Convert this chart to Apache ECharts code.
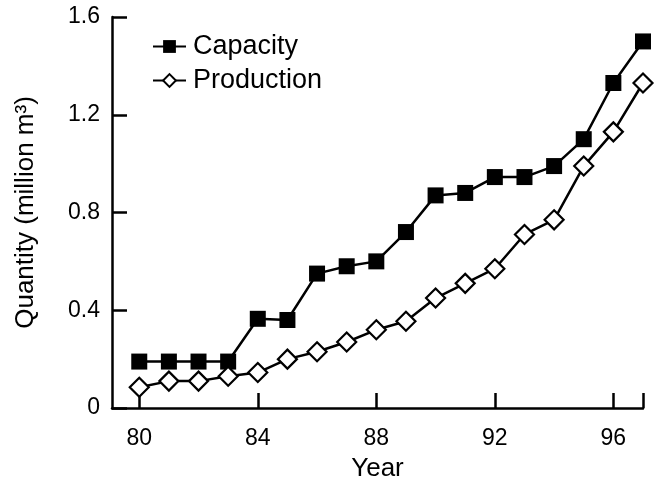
<!DOCTYPE html>
<html>
<head>
<meta charset="utf-8">
<script src="https://cdn.jsdelivr.net/npm/echarts@6/dist/echarts.min.js"></script>
<style>
  html, body { margin: 0; padding: 0; background: #fff; }
  #chart { width: 665px; height: 483px; }
</style>
</head>
<body>
<div id="chart"></div>
<script>
// Years (19xx) and quantities in million m³
const years = [80, 81, 82, 83, 84, 85, 86, 87, 88, 89, 90, 91, 92, 93, 94, 95, 96, 97];
const capacity = [0.19, 0.19, 0.19, 0.19, 0.365, 0.36, 0.55, 0.58, 0.60, 0.72, 0.87, 0.88, 0.945, 0.945, 0.99, 1.10, 1.33, 1.50];
const production = [0.085, 0.11, 0.11, 0.13, 0.145, 0.20, 0.23, 0.27, 0.32, 0.355, 0.45, 0.51, 0.57, 0.71, 0.77, 0.99, 1.13, 1.33];
const xTickLabels = [80, 84, 88, 92, 96];
const xTicks = [80, 84, 88, 92, 96, 97];

const FONT = '"Liberation Sans", Arial, sans-serif';
const pairs = (vals) => years.map((y, i) => [y, vals[i]]);

const chart = echarts.init(document.getElementById('chart'), null, { renderer: 'canvas' });

chart.setOption({
  animation: false,
  backgroundColor: '#fff',
  textStyle: { fontFamily: FONT, color: '#000' },
  grid: { left: 112, right: 22, top: 17, bottom: 75, containLabel: false, outerBoundsMode: 'none' },
  legend: {
    orient: 'vertical',
    left: 147,
    top: 28,
    itemWidth: 33,
    itemHeight: 16,
    itemGap: 7,
    textStyle: { fontFamily: FONT, fontSize: 27, color: '#000', padding: [0, 0, 0, 2] },
    data: ['Capacity', 'Production']
  },
  xAxis: {
    type: 'value',
    min: 79.08,
    max: 97,
    name: 'Year',
    nameLocation: 'middle',
    nameGap: 48,
    nameTextStyle: { fontFamily: FONT, fontSize: 26, color: '#000' },
    axisLine: { lineStyle: { color: '#000', width: 2.5 } },
    axisTick: { inside: true, length: 15, lineStyle: { color: '#000', width: 2.5 }, customValues: xTicks },
    axisLabel: { fontFamily: FONT, fontSize: 23, color: '#000', margin: 19, customValues: xTickLabels },
    splitLine: { show: false }
  },
  yAxis: {
    type: 'value',
    min: 0,
    max: 1.6,
    interval: 0.4,
    name: 'Quantity (million m³)',
    nameLocation: 'middle',
    nameGap: 73,
    nameTextStyle: { fontFamily: FONT, fontSize: 26, color: '#000' },
    axisLine: { show: true, lineStyle: { color: '#000', width: 2.5 } },
    axisTick: { show: true, inside: true, length: 15, lineStyle: { color: '#000', width: 2.5 } },
    axisLabel: {
      fontFamily: FONT, fontSize: 23, color: '#000', margin: 12,
      formatter: (v) => (v === 0 ? '0' : v.toFixed(1))
    },
    splitLine: { show: false }
  },
  series: [
    {
      name: 'Capacity',
      type: 'line',
      data: pairs(capacity),
      symbol: 'rect',
      symbolSize: 16,
      showAllSymbol: true,
      lineStyle: { color: '#000', width: 2.5 },
      itemStyle: { color: '#000', borderWidth: 0 },
      z: 2
    },
    {
      name: 'Production',
      type: 'line',
      data: pairs(production),
      symbol: 'diamond',
      symbolSize: 19,
      showAllSymbol: true,
      lineStyle: { color: '#000', width: 2.5 },
      itemStyle: { color: '#fff', borderColor: '#000', borderWidth: 2.2 },
      z: 3
    }
  ]
});
</script>
</body>
</html>
